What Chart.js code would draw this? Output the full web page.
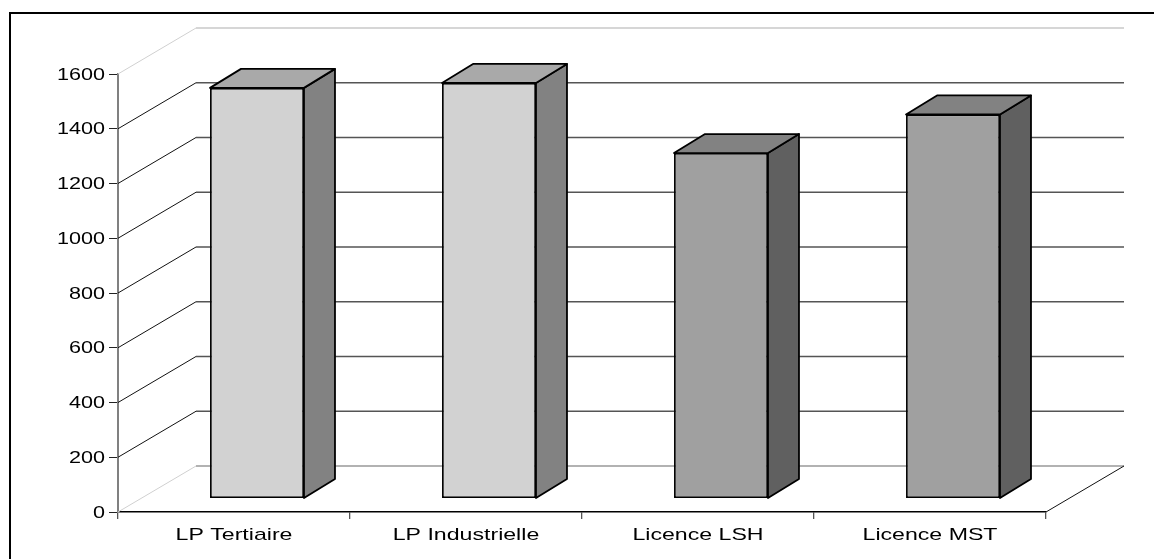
<!DOCTYPE html>
<html lang="fr">
<head>
<meta charset="utf-8">
<title>Licences</title>
<script src="https://cdn.jsdelivr.net/npm/chart.js@4/dist/chart.umd.min.js"></script>
<style>
    html, body { margin: 0; padding: 0; background: #fff; overflow: hidden; }
    .cadre {
        position: absolute; left: 9px; top: 12px; right: 0; bottom: 0;
        border-left: 2px solid #000; border-top: 2px solid #000;
    }
    canvas { position: absolute; left: 0; top: 0; }
</style>
</head>
<body>
<div class="cadre"></div>
<canvas id="chart" width="1154" height="559"></canvas>
<script>
// ── Données ─────────────────────────────────
const categories = ['LP Tertiaire', 'LP Industrielle', 'Licence LSH', 'Licence MST'];
const effectifs  = [1500, 1518, 1262, 1403];
const yTicks     = [0, 200, 400, 600, 800, 1000, 1200, 1400, 1600];

// ── Couleurs des barres (face, dessus, côté) ─
const faces   = ['#d2d2d2', '#d2d2d2', '#a0a0a0', '#a0a0a0'];
const dessus  = ['#a9a9a9', '#a9a9a9', '#828282', '#828282'];
const cotes   = ['#828282', '#828282', '#606060', '#606060'];

// Profondeur du plancher et position des barres dans cette profondeur
const FOND  = { x: 78, y: 46 };
const DECAL = { x: 23, y: 13.5 };
const BARRE = { x: 31, y: 19 };
const FONT  = '17px "Liberation Sans", Arial, sans-serif';

function ligne(ctx, pts, color, width) {
    ctx.beginPath();
    pts.forEach((p, i) => i ? ctx.lineTo(p[0], p[1]) : ctx.moveTo(p[0], p[1]));
    ctx.strokeStyle = color;
    ctx.lineWidth = width;
    ctx.stroke();
}

function polygone(ctx, pts, fill) {
    ctx.beginPath();
    pts.forEach((p, i) => i ? ctx.lineTo(p[0], p[1]) : ctx.moveTo(p[0], p[1]));
    ctx.closePath();
    ctx.fillStyle = fill;
    ctx.fill();
    ctx.strokeStyle = '#000';
    ctx.lineWidth = 1.8;
    ctx.lineJoin = 'round';
    ctx.stroke();
}

// Mur du fond + plancher, en partant des graduations de l'axe y
const murPlugin = {
    id: 'mur',
    beforeDatasetsDraw(chart) {
        const { ctx, chartArea: a, scales: { y } } = chart;
        ctx.save();
        y.ticks.forEach(t => {
            const py = y.getPixelForValue(t.value);
            const clair = t.value === 0 || t.value === 1600;
            ligne(ctx, [[a.left, py], [a.left + FOND.x, py - FOND.y]], clair ? '#d0d0d0' : '#111', 1);
            ligne(ctx, [[a.left + FOND.x, py - FOND.y], [a.right + FOND.x, py - FOND.y]],
                  t.value === 1600 ? '#c8c8c8' : (t.value === 0 ? '#999' : '#555'), 1.5);
        });
        ligne(ctx, [[a.right, a.bottom], [a.right + FOND.x, a.bottom - FOND.y]], '#111', 1);
        ctx.restore();
    }
};

// Barres 3D : la face vient de Chart.js, on ajoute le dessus et le côté
const barres3dPlugin = {
    id: 'barres3d',
    beforeDatasetDraw(chart, args) {
        const ctx = chart.ctx;
        ctx.save();
        ctx.translate(DECAL.x, -DECAL.y);
        args.meta.data.forEach((bar, i) => {
            const g = bar.x - bar.width / 2, d = bar.x + bar.width / 2;
            polygone(ctx, [[d, bar.y], [d + BARRE.x, bar.y - BARRE.y],
                           [d + BARRE.x, bar.base - BARRE.y], [d, bar.base]], cotes[i]);
            polygone(ctx, [[g, bar.y], [g + BARRE.x, bar.y - BARRE.y],
                           [d + BARRE.x, bar.y - BARRE.y], [d, bar.y]], dessus[i]);
        });
    },
    afterDatasetDraw(chart) {
        chart.ctx.restore();
    }
};

// Les libellés de l'original sont étirés en largeur
const libellesPlugin = {
    id: 'libelles',
    afterDraw(chart) {
        const { ctx, scales: { x, y } } = chart;
        const texte = (s, px, py, etire, align) => {
            ctx.save();
            ctx.translate(px, py);
            ctx.scale(etire, 1);
            ctx.font = FONT;
            ctx.fillStyle = '#000';
            ctx.textAlign = align;
            ctx.textBaseline = 'middle';
            ctx.fillText(s, 0, 0);
            ctx.restore();
        };
        y.ticks.forEach(t => texte(String(t.value), y.left + 105, y.getPixelForValue(t.value) + 1, 1.27, 'right'));
        categories.forEach((c, i) => texte(c, x.getPixelForValue(i), x.top + 23, 1.36, 'center'));
    }
};

new Chart(document.getElementById('chart'), {
    type: 'bar',
    data: {
        labels: categories,
        datasets: [{
            data: effectifs,
            backgroundColor: faces,
            borderColor: '#000',
            borderWidth: 1.8,
            borderSkipped: false,
            barPercentage: 0.405,
            categoryPercentage: 1,
            clip: false
        }]
    },
    options: {
        responsive: false,
        animation: false,
        layout: { padding: { left: 0, right: 108, top: 74, bottom: 0 } },
        plugins: { legend: { display: false }, tooltip: { enabled: false } },
        scales: {
            x: {
                afterFit: s => { s.height = 47; },
                ticks: { display: false },
                grid: { offset: true, drawOnChartArea: false, tickLength: 7, color: '#555', lineWidth: 1.3 },
                border: { color: '#000', width: 1.5 }
            },
            y: {
                min: 0,
                max: 1600,
                afterFit: s => { s.width = 118; },
                afterBuildTicks: s => { s.ticks = yTicks.map(value => ({ value })); },
                ticks: { display: false },
                grid: { drawOnChartArea: false, tickLength: 9, color: '#222', lineWidth: 1 },
                border: { color: '#808080', width: 2 }
            }
        }
    },
    plugins: [murPlugin, barres3dPlugin, libellesPlugin]
});
</script>
</body>
</html>
